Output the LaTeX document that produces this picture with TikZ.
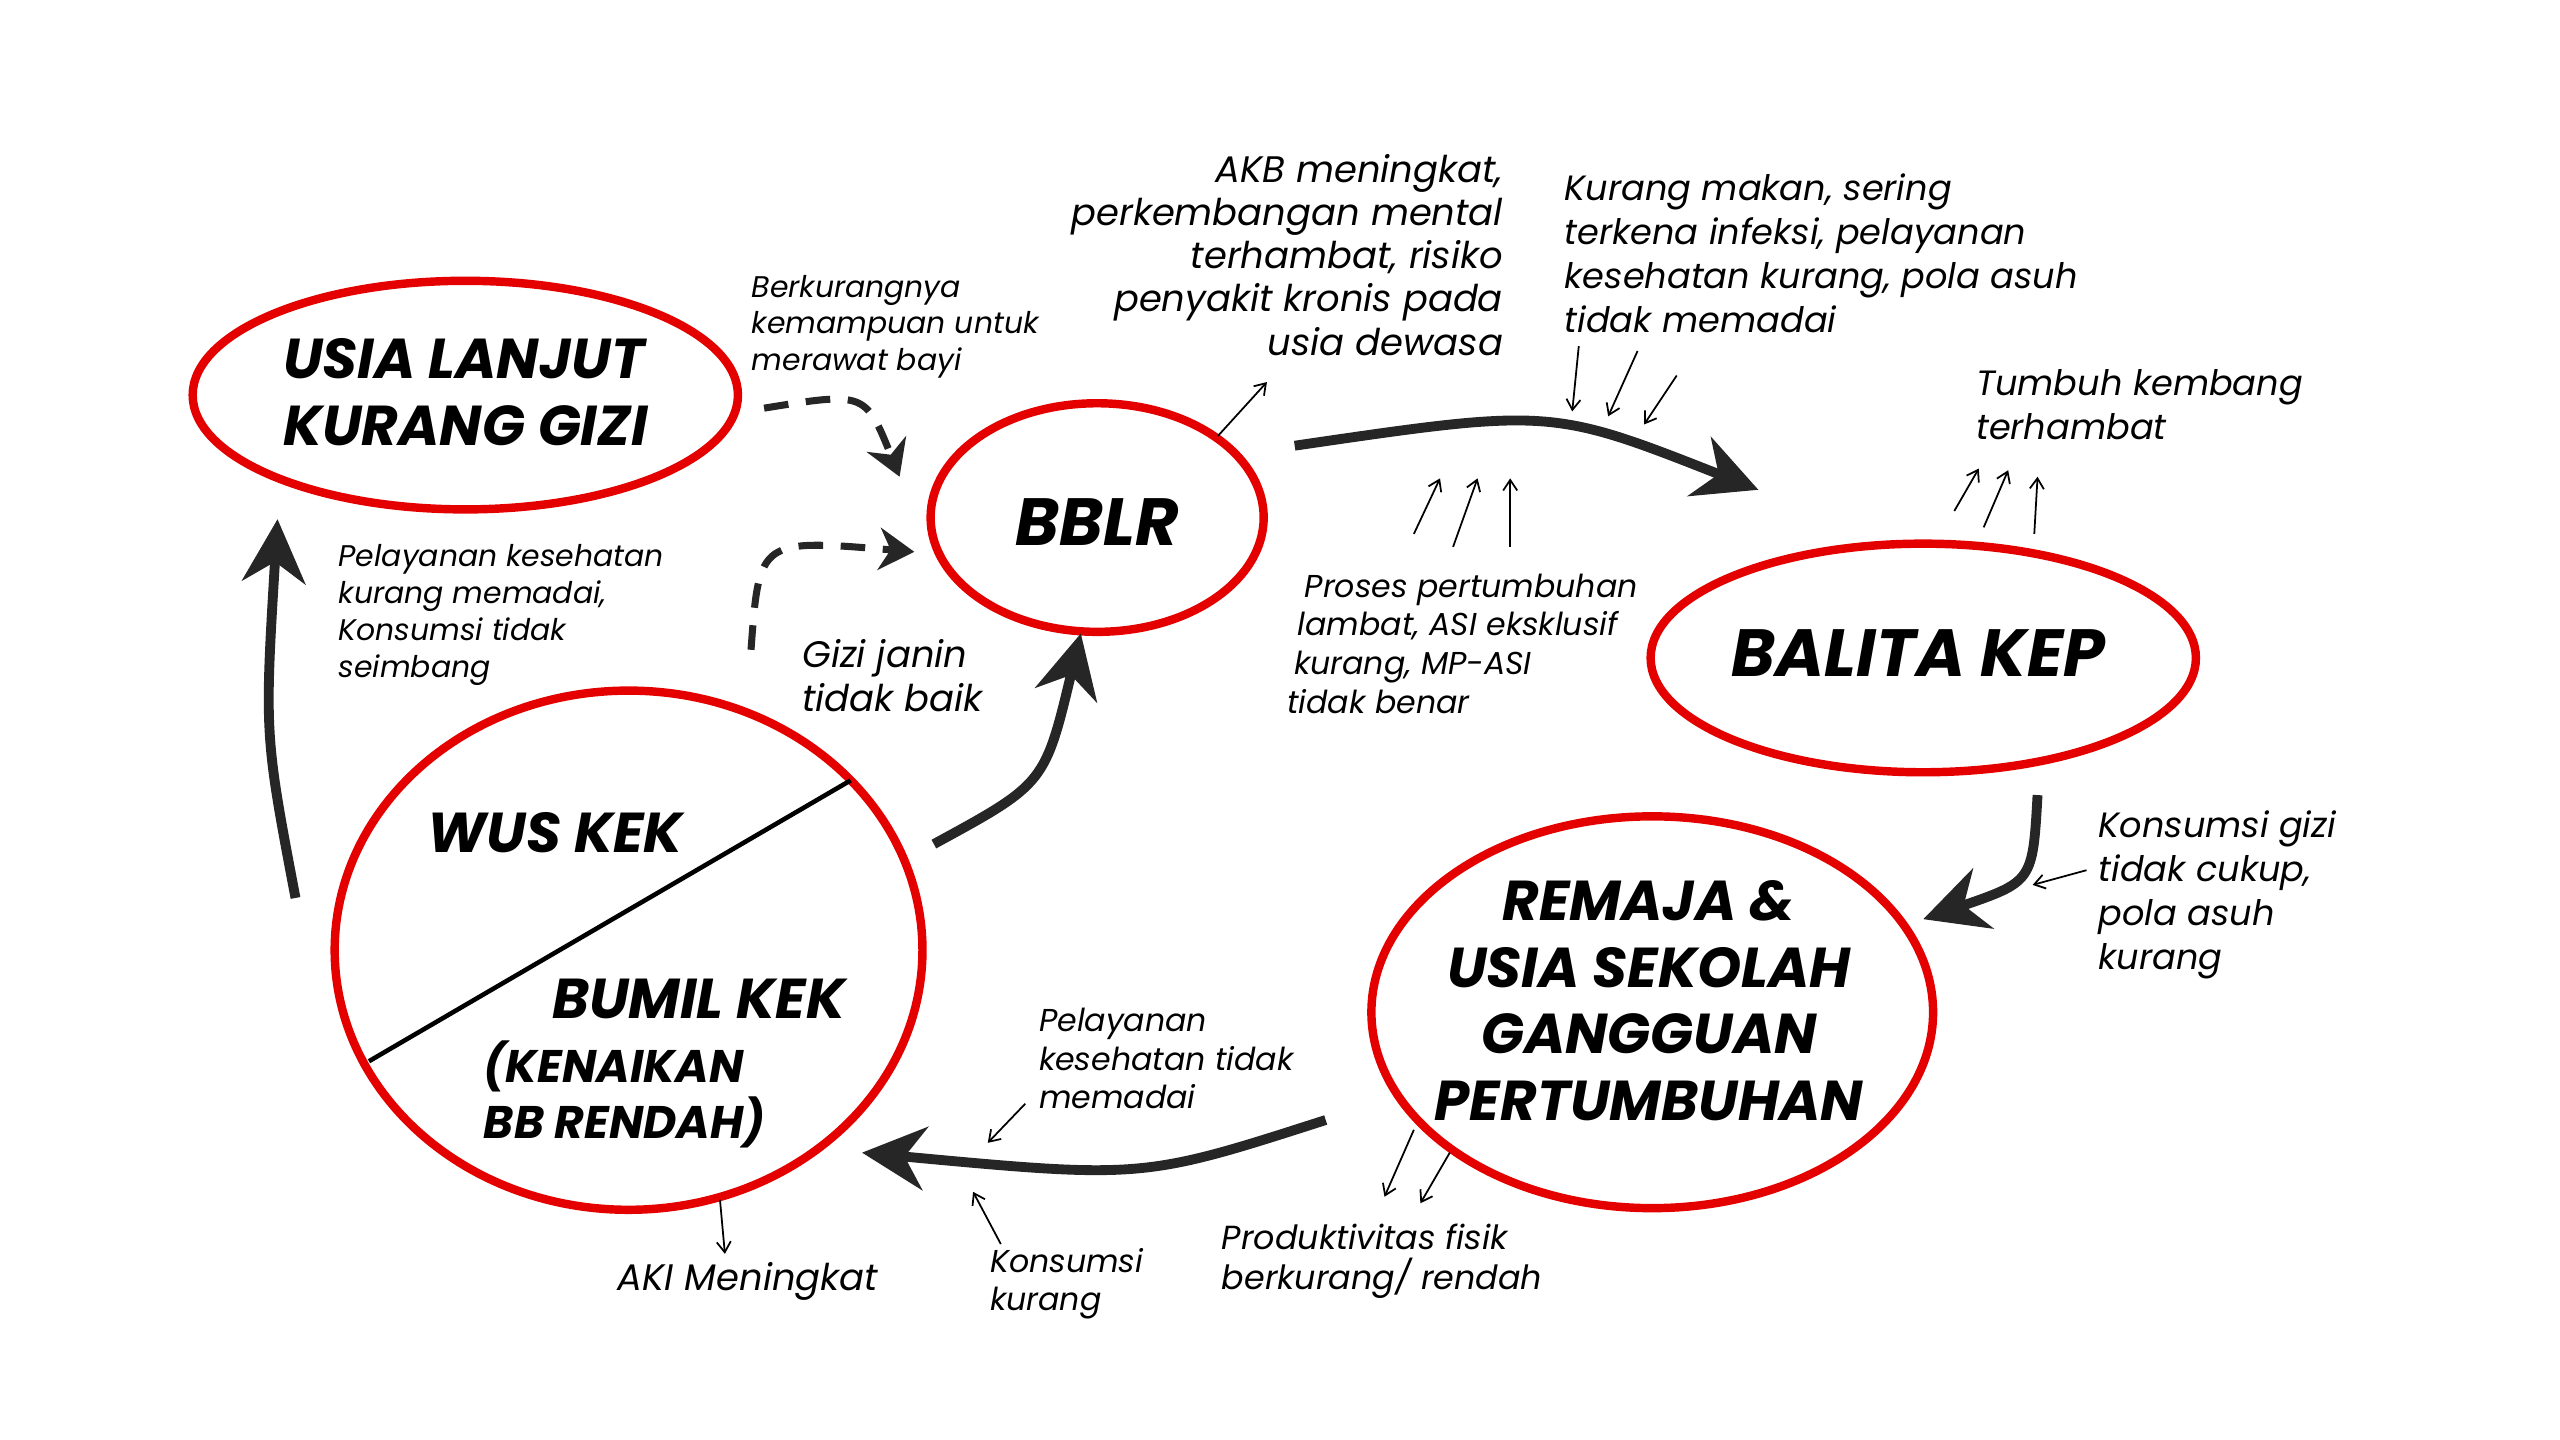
\documentclass[tikz,border=0pt]{standalone}
\usepackage{fontspec}
\setmainfont{Poppins}
\usetikzlibrary{arrows.meta,shapes.geometric}
\begin{document}
\begin{tikzpicture}[x=0.016327cm,y=-0.016327cm,
  ring/.style={draw=red!90!black,line width=2.4pt,ellipse,inner sep=0pt},
  big/.style={font=\fontsize{16}{19}\selectfont\bfseries\itshape,align=center},
  huge/.style={font=\fontsize{19}{22}\selectfont\bfseries\itshape},
  small/.style={font=\fontsize{8.5}{10.5}\selectfont\itshape,align=left,anchor=north west,inner sep=0pt},
  mid/.style={font=\fontsize{10}{12.5}\selectfont\itshape,align=left,anchor=north west,inner sep=0pt},
  thick arr/.style={line width=2.8pt,color=black!85,-{Stealth[length=18pt,width=18pt]}},
  dash arr/.style={line width=2pt,color=black!85,dash pattern=on 7pt off 5pt,-{Stealth[length=10pt,width=12pt]}},
  thin arr/.style={line width=0.5pt,-{Straight Barb[length=3pt,width=4pt]}}]
\useasboundingbox (0,0) rectangle (1568,882);
\fill[white] (0,0) rectangle (1568,882);
\node[ring,minimum width=5.453cm,minimum height=2.286cm] (usia) at (285,242) {};
\node[big,align=left] at (285,240) {USIA LANJUT\\KURANG GIZI};
\node[ring,minimum width=3.331cm,minimum height=2.286cm] (bblr) at (672,317) {};
\node[huge] at (672,320) {BBLR};
\node[ring,minimum width=5.453cm,minimum height=2.286cm] (balita) at (1178,403) {};
\node[huge] at (1175,400) {BALITA KEP};
\node[ring,minimum width=5.617cm,minimum height=3.918cm] (remaja) at (1012,620) {};
\node[big] at (1010,613) {REMAJA \&\\USIA SEKOLAH\\GANGGUAN\\PERTUMBUHAN};
\node[ring,minimum width=5.878cm,minimum height=5.192cm] (wus) at (385,582) {};
\draw[line width=1.3pt] (226,650) -- (521,478);
\node[big] at (340,510) {WUS KEK};
\node[big] at (428,612) {BUMIL KEK};
\node[font=\fontsize{13}{16}\selectfont\bfseries\itshape,align=left,anchor=north west,inner sep=0pt] at (296,637) {(KENAIKAN\\BB RENDAH)};

\coordinate (a1s) at (181,550); \coordinate (a1e) at (170,318);
\draw[thick arr] (a1s) .. controls (162,450) .. (a1e);
\coordinate (a2s) at (572,517); \coordinate (a2e) at (662,388);
\draw[thick arr] (a2s) .. controls (640,480) .. (a2e);
\coordinate (a3s) at (793,273); \coordinate (a3e) at (1077,300);
\draw[thick arr] (a3s) .. controls (950,250) .. (a3e);
\coordinate (a4s) at (1248,487); \coordinate (a4e) at (1178,563);
\draw[thick arr] (a4s) .. controls (1245,540) .. (a4e);
\coordinate (a5s) at (812,686); \coordinate (a5e) at (528,706);
\draw[thick arr] (a5s) .. controls (700,722) .. (a5e);
\coordinate (d1s) at (468,250); \coordinate (d1e) at (551,292);
\draw[dash arr] (d1s) .. controls (530,240) .. (d1e);
\coordinate (d2s) at (460,398); \coordinate (d2e) at (560,338);
\draw[dash arr] (d2s) .. controls (465,330) .. (d2e);

\foreach \a/\b in {{746,267}/{776,234},{866,327}/{882,293},{890,335}/{905,293},{925,335}/{925,293},
  {967,212}/{963,252},{1003,215}/{985,255},{1027,230}/{1007,260},
  {1197,313}/{1212,287},{1215,323}/{1230,288},{1246,327}/{1248,292},
  {1278,533}/{1245,542},{628,676}/{605,700},{613,762}/{596,730},{441,735}/{444,768},
  {866,692}/{848,733},{888,706}/{870,737}}
  \draw[thin arr] (\a) -- (\b);

\node[small] at (460,168) {Berkurangnya\\kemampuan untuk\\merawat bayi};
\node[mid,font=\fontsize{10.5}{12.3}\selectfont\itshape,align=right,anchor=north east] at (921,94) {AKB meningkat,\\perkembangan mental\\terhambat, risiko\\penyakit kronis pada\\usia dewasa};
\node[mid] at (958,106) {Kurang makan, sering\\terkena infeksi, pelayanan\\kesehatan kurang, pola asuh\\tidak memadai};
\node[mid] at (1210,226) {Tumbuh kembang\\terhambat};
\node[small,font=\fontsize{9}{11}\selectfont\itshape] at (788,351) {\hspace*{5pt}Proses pertumbuhan\\\hspace*{3pt}lambat, ASI eksklusif\\\hspace*{2pt}kurang, MP-ASI\\tidak benar};
\node[small] at (207,333) {Pelayanan kesehatan\\kurang memadai,\\Konsumsi tidak\\seimbang};
\node[mid,font=\fontsize{10.5}{12.5}\selectfont\itshape] at (491,391) {Gizi janin\\tidak baik};
\node[mid] at (1285,496) {Konsumsi gizi\\tidak cukup,\\pola asuh\\kurang};
\node[small,font=\fontsize{9}{11}\selectfont\itshape] at (636,617) {Pelayanan\\kesehatan tidak\\memadai};
\node[small,font=\fontsize{9}{11}\selectfont\itshape] at (606,764) {Konsumsi\\kurang};
\node[small,font=\fontsize{9.5}{11.5}\selectfont\itshape] at (748,749) {Produktivitas fisik\\berkurang/ rendah};
\node[small,font=\fontsize{10.5}{12}\selectfont\itshape] at (378,773) {AKI Meningkat};
\end{tikzpicture}
\end{document}
